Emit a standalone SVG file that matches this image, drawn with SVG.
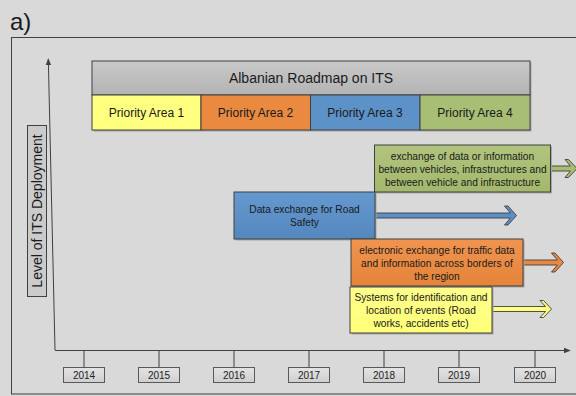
<svg xmlns="http://www.w3.org/2000/svg" width="576" height="396" viewBox="0 0 576 396">
<defs>
<linearGradient id="gTitle" x1="0" y1="0" x2="0" y2="1"><stop offset="0" stop-color="#c9c9c9"/><stop offset="1" stop-color="#b3b3b3"/></linearGradient>
<linearGradient id="gYear" x1="0" y1="0" x2="0" y2="1"><stop offset="0" stop-color="#e4e4e4"/><stop offset="1" stop-color="#cfcfcf"/></linearGradient>
<linearGradient id="gBlue" x1="0" y1="0" x2="0" y2="1"><stop offset="0" stop-color="#6499cf"/><stop offset="1" stop-color="#5587bf"/></linearGradient>
<linearGradient id="gOrange" x1="0" y1="0" x2="0" y2="1"><stop offset="0" stop-color="#ef9450"/><stop offset="1" stop-color="#e5843a"/></linearGradient>
<linearGradient id="gGreen" x1="0" y1="0" x2="0" y2="1"><stop offset="0" stop-color="#b1c47e"/><stop offset="1" stop-color="#a3b86c"/></linearGradient>
<linearGradient id="gYellow" x1="0" y1="0" x2="0" y2="1"><stop offset="0" stop-color="#ffff8c"/><stop offset="1" stop-color="#ffff78"/></linearGradient>
<marker id="ah" viewBox="0 0 10 10" refX="9" refY="5" markerWidth="7" markerHeight="7" orient="auto" markerUnits="userSpaceOnUse"><path d="M0,1 L10,5 L0,9 Z" fill="#404040"/></marker>
</defs>
<style>
text{font-family:"Liberation Sans",Arial,sans-serif;fill:#1a1a1a}
.bx{stroke:#404040;stroke-width:1}
.t10{font-size:10.2px;text-anchor:middle}
.t12{font-size:12px;text-anchor:middle}
.yr{font-size:10px;text-anchor:middle;fill:#222}
.ax{stroke:#404040;stroke-width:1;fill:none}
.ar{stroke:#404040;stroke-width:0.9}
.sh{fill:#a6a6a6}
</style>
<rect width="576" height="396" fill="#d9d9d9"/>
<text x="10" y="30" style="font-size:24px">a)</text>
<rect x="11.5" y="37.5" width="580" height="356.5" fill="none" stroke="#404040" stroke-width="1"/>

<g id="ylabel">
<rect x="27.5" y="125.5" width="19" height="171" fill="#cbcbcb" class="bx"/>
<text transform="translate(42,211) rotate(-90)" style="font-size:14px;text-anchor:middle">Level of ITS Deployment</text>
</g>

<g id="axes">
<path class="ax" d="M55,350 L48.3,59" marker-end="url(#ah)"/>
<path class="ax" d="M55,350.5 L570,350.5" marker-end="url(#ah)"/>
<path class="ax" d="M84,351 V367 M159,351 V367 M234,351 V367 M309,351 V367 M384,351 V367 M459,351 V367 M535,351 V367"/>
</g>

<g id="years">
<g id="y2014"><rect x="63.5" y="367.5" width="41" height="15" fill="url(#gYear)" stroke="#595959"/><text class="yr" x="84" y="379">2014</text></g>
<g id="y2015"><rect x="138.5" y="367.5" width="41" height="15" fill="url(#gYear)" stroke="#595959"/><text class="yr" x="159" y="379">2015</text></g>
<g id="y2016"><rect x="213.5" y="367.5" width="41" height="15" fill="url(#gYear)" stroke="#595959"/><text class="yr" x="234" y="379">2016</text></g>
<g id="y2017"><rect x="288.5" y="367.5" width="41" height="15" fill="url(#gYear)" stroke="#595959"/><text class="yr" x="309" y="379">2017</text></g>
<g id="y2018"><rect x="363.5" y="367.5" width="41" height="15" fill="url(#gYear)" stroke="#595959"/><text class="yr" x="384" y="379">2018</text></g>
<g id="y2019"><rect x="438.5" y="367.5" width="41" height="15" fill="url(#gYear)" stroke="#595959"/><text class="yr" x="459" y="379">2019</text></g>
<g id="y2020"><rect x="514.5" y="367.5" width="41" height="15" fill="url(#gYear)" stroke="#595959"/><text class="yr" x="535" y="379">2020</text></g>
</g>

<g id="roadmap">
<rect class="sh" x="93.5" y="62.5" width="438" height="69"/>
<rect x="92" y="61" width="438" height="34" fill="url(#gTitle)" class="bx"/>
<text x="311" y="83" style="font-size:14px;text-anchor:middle">Albanian Roadmap on ITS</text>
</g>
<g id="pa1"><rect x="92" y="95" width="109" height="35" fill="#ffff80" class="bx"/><text class="t12" x="146.5" y="117">Priority Area 1</text></g>
<g id="pa2"><rect x="201" y="95" width="109.5" height="35" fill="#e98a40" class="bx"/><text class="t12" x="255.5" y="117">Priority Area 2</text></g>
<g id="pa3"><rect x="310.5" y="95" width="109.5" height="35" fill="#5d92c8" class="bx"/><text class="t12" x="365" y="117">Priority Area 3</text></g>
<g id="pa4"><rect x="420" y="95" width="110" height="35" fill="#a9be75" class="bx"/><text class="t12" x="475" y="117">Priority Area 4</text></g>

<g id="connectors">
<polygon class="ar" fill="#a8bd70" points="545,166 570.4,166 565,159.5 568.5,159.5 577,168.5 568.5,177.5 565,177.5 570.4,171 545,171"/>
<polygon class="ar" fill="#5b8fc6" points="370,213 510.4,213 504.5,206 508,206 516.5,215.5 508,225 504.5,225 510.4,218 370,218"/>
<polygon class="ar" fill="#ea8840" points="518,260 557.4,260 551.5,253 555,253 563.5,262.5 555,272 551.5,272 557.4,265 518,265"/>
<polygon class="ar" fill="#ffff80" points="487,306.5 545.6,306.5 540,300.5 543.5,300.5 551.5,309 543.5,317.5 540,317.5 545.6,311.5 487,311.5"/>
</g>

<g id="n-green">
<rect class="sh" x="376" y="146.5" width="176" height="47"/>
<rect x="374.5" y="145" width="176" height="47" fill="url(#gGreen)" class="bx"/>
<text class="t10" x="462.5" y="159.5">exchange of data or information</text>
<text class="t10" x="462.5" y="172.5">between vehicles, infrastructures and</text>
<text class="t10" x="462.5" y="185.5">between vehicle and infrastructure</text>
</g>
<g id="n-blue">
<rect class="sh" x="235.5" y="193.5" width="141" height="47"/>
<rect x="234" y="192" width="141" height="47" fill="url(#gBlue)" class="bx"/>
<text class="t10" x="304.5" y="212.5">Data exchange for Road</text>
<text class="t10" x="304.5" y="225.5">Safety</text>
</g>
<g id="n-orange">
<rect class="sh" x="352.5" y="240.5" width="172" height="47"/>
<rect x="351" y="239" width="172" height="47" fill="url(#gOrange)" class="bx"/>
<text class="t10" x="437" y="253.5">electronic exchange for traffic data</text>
<text class="t10" x="437" y="266.5">and information across borders of</text>
<text class="t10" x="437" y="279.5">the region</text>
</g>
<g id="n-yellow">
<rect class="sh" x="351.5" y="288.5" width="142" height="46"/>
<rect x="350" y="287" width="142" height="46" fill="url(#gYellow)" class="bx"/>
<text class="t10" x="421" y="300.5">Systems for identification and</text>
<text class="t10" x="421" y="313.5">location of events (Road</text>
<text class="t10" x="421" y="327">works, accidents etc)</text>
</g>
</svg>
